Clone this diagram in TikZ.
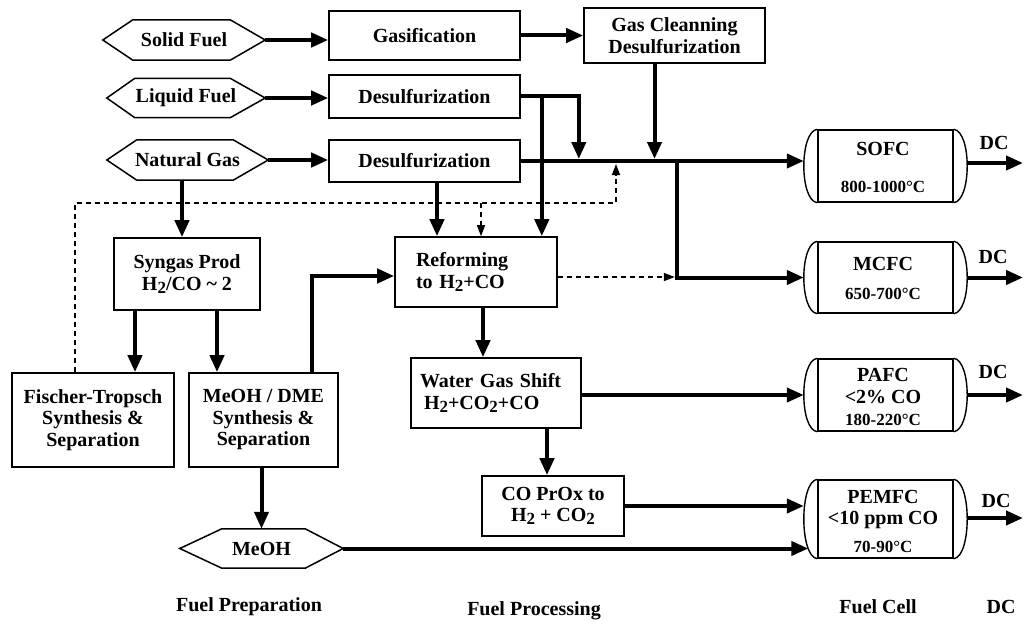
\documentclass[tikz,border=0pt]{standalone}
\usepackage{fontspec}
\setmainfont{Liberation Serif}
\usetikzlibrary{arrows.meta,calc}
\newcommand\hsub[1]{\raisebox{-0.35ex}{\fontsize{17}{17}\selectfont #1}}
\newcommand\hexdraw[3]{%
  \draw[line width=1.5pt] (#1.west) -- ($(#1.north west)+(#2,0)$) -- ($(#1.north east)+(-#3,0)$) -- (#1.east) -- ($(#1.south east)+(-#3,0)$) -- ($(#1.south west)+(#2,0)$) -- cycle;}
\newcommand\fcdraw[1]{%
  \draw[line width=1.4pt] (#1.north west) .. controls ($(#1.north west)+(-18,2)$) and ($(#1.south west)+(-18,-2)$) .. (#1.south west);
  \draw[line width=1.4pt] (#1.north east) .. controls ($(#1.north east)+(18,2)$) and ($(#1.south east)+(18,-2)$) .. (#1.south east);
  \coordinate (#1-in) at ($(#1.west)+(-13.5,0)$);}
\tikzset{
  every node/.style={font=\fontsize{20}{21.5}\selectfont\bfseries},
  box/.style={draw, line width=1.6pt, rectangle, inner sep=0pt, align=center},
  hexnode/.style={inner sep=0pt, minimum height=#1},
  fc/.style={draw, line width=1.4pt, rectangle, inner sep=0pt, minimum width=135pt},
  txt/.style={inner sep=0pt},
  smalltxt/.style={inner sep=0pt, font=\fontsize{17}{18}\selectfont\bfseries},
  flow/.style={line width=4pt, -{Triangle[length=17pt,width=14pt]}},
  plainline/.style={line width=4pt},
  dflow/.style={line width=1.5pt, dash pattern=on 5pt off 4pt, -{Triangle[length=11pt,width=8pt]}},
}
\begin{document}
\begin{tikzpicture}[x=1pt,y=-1pt]
\fill[white] (0,0) rectangle (1024,623);
\useasboundingbox (0,0) rectangle (1024,623);

% hexagon inputs
\node[hexnode=40pt, minimum width=162pt] (solid) at (184,40) {Solid Fuel};
\node[hexnode=39pt, minimum width=158pt] (liquid) at (186,98) {Liquid Fuel};
\node[hexnode=40pt, minimum width=161pt] (natgas) at (187.5,160) {Natural Gas};
\node[hexnode=39pt, minimum width=163pt] (meohhex) at (261.5,548.5) {MeOH};
\hexdraw{solid}{30}{35}
\hexdraw{liquid}{28}{35}
\hexdraw{natgas}{30}{35}
\hexdraw{meohhex}{42}{38}

% boxes
\node[box, minimum width=191pt, minimum height=49pt] (gasif) at (424.5,35.5) {Gasification};
\node[box, minimum width=191pt, minimum height=43pt] (desulf1) at (424.5,96.5) {Desulfurization};
\node[box, minimum width=191pt, minimum height=42pt] (desulf2) at (424.5,161) {Desulfurization};
\node[box, minimum width=181pt, minimum height=55pt] (gasclean) at (674.5,35.5) {Gas Cleanning\\Desulfurization};
\node[box, minimum width=146pt, minimum height=72pt] (syngas) at (187,274) {Syngas Prod\\H\hsub{2}/CO \textasciitilde{} 2};
\node[box, minimum width=162pt, minimum height=94pt] (ft) at (93,420) {Fischer-Tropsch\\Synthesis \&\\Separation};
\node[box, minimum width=149pt, minimum height=94pt] (meohdme) at (263.5,420) {MeOH / DME\\Synthesis \&\\Separation};
\node[box, text width=120pt, inner xsep=21pt, align=left, minimum height=70pt] (reform) at (476,272) {Reforming\\to H\hsub{2}+CO};
\node[box, text width=152pt, inner xsep=9pt, align=left, minimum height=70pt] (wgs) at (496,393) {Water Gas Shift\\\hspace*{4pt}H\hsub{2}+CO\hsub{2}+CO};
\node[box, minimum width=142pt, minimum height=60pt] (prox) at (553,506) {CO PrOx to\\H\hsub{2} + CO\hsub{2}};

% fuel cells
\node[fc, minimum height=72pt] (sofc) at (885.5,166) {};
\node[fc, minimum height=71pt] (mcfc) at (885.5,277.5) {};
\node[fc, minimum height=72pt] (pafc) at (885.5,395) {};
\node[fc, minimum height=78pt] (pemfc) at (885.5,519) {};
\fcdraw{sofc}
\fcdraw{mcfc}
\fcdraw{pafc}
\fcdraw{pemfc}
\node[txt] (sofc1) at (883,149) {SOFC};
\node[smalltxt] (sofc2) at (883,187) {800-1000°C};
\node[txt] (mcfc1) at (883,264) {MCFC};
\node[smalltxt] (mcfc2) at (883,294) {650-700°C};
\node[txt] (pafc1) at (883,375) {PAFC};
\node[txt] (pafc2) at (883,397) {<2\% CO};
\node[smalltxt] (pafc3) at (883,420) {180-220°C};
\node[txt] (pemfc1) at (883,497) {PEMFC};
\node[txt] (pemfc2) at (883,520) {<10 ppm CO};
\node[smalltxt] (pemfc3) at (883,547) {70-90°C};

% DC outputs
\coordinate (right) at (1023,0);
\coordinate (sofc-out) at ($(sofc.east)+(13.5,-3)$);
\coordinate (mcfc-out) at ($(mcfc.east)+(13.5,0)$);
\coordinate (pafc-out) at ($(pafc.east)+(13.5,0)$);
\coordinate (pemfc-out) at ($(pemfc.east)+(13.5,-1)$);
\draw[flow] (sofc-out) -- (sofc-out -| right);
\draw[flow] (mcfc-out) -- (mcfc-out -| right);
\draw[flow] (pafc-out) -- (pafc-out -| right);
\draw[flow] (pemfc-out) -- (pemfc-out -| right);
\node[txt] (dc1) at (994,143) {DC};
\node[txt] (dc2) at (993,257) {DC};
\node[txt] (dc3) at (993,372) {DC};
\node[txt] (dc4) at (996,501) {DC};

% bottom labels
\node[txt] (lprep) at (249,607) {Fuel Preparation};
\node[txt] (lproc) at (534,611) {Fuel Processing};
\node[txt] (lcell) at (878,607) {Fuel Cell};
\node[txt] (ldc) at (1001,607) {DC};

% input arrows
\draw[flow] (solid.east) -- (solid.east -| gasif.west);
\draw[flow] (gasif.east) -- (gasif.east -| gasclean.west);
\draw[flow] (liquid.east) -- (liquid.east -| desulf1.west);
\draw[flow] (natgas.east) -- (natgas.east -| desulf2.west);

% main bus
\draw[flow] (desulf2.east) -- (desulf2.east -| sofc-in);
\coordinate (bt) at ($(desulf2.east)+(0,-2)$);
\coordinate (j0) at ($(desulf1.east)+(58,0)$);
\draw[flow] (desulf1.east) -- (j0) -- (j0 |- bt);
\coordinate (j1) at ($(desulf1.east)+(21,0)$);
\draw[flow] (j1) -- (j1 |- reform.north);
\coordinate (jg) at ($(gasclean.south)+(-20,0)$);
\draw[flow] (jg) -- (jg |- bt);
\coordinate (j2) at ($(desulf2.east)+(156,0)$);
\draw[flow] (j2) |- (mcfc-in);
\coordinate (j3) at ($(desulf2.south)+(12.5,0)$);
\draw[flow] (j3) -- (j3 |- reform.north);

% dashed recycle
\coordinate (dl) at ($(ft.north)+(-18,0)$);
\coordinate (dy) at (0,203);
\coordinate (dend) at (616,164);
\draw[dflow] (dl) |- (dy -| dend) -- (dend);
\coordinate (j4) at ($(reform.north)+(5,0)$);
\draw[dflow] (j4 |- dy) -- (j4);
\coordinate (rout) at ($(reform.east)+(0,5)$);
\draw[dflow] (rout) -- ($(rout -| j2)+(-2,0)$);

% fuel preparation
\coordinate (j5) at ($(natgas.south)+(-5.5,0)$);
\draw[flow] (j5) -- (j5 |- syngas.north);
\coordinate (j6) at ($(syngas.south)+(-52,0)$);
\draw[flow] (j6) -- (j6 |- ft.north);
\coordinate (j7) at ($(syngas.south)+(30,0)$);
\draw[flow] (j7) -- (j7 |- meohdme.north);
\coordinate (j8) at ($(meohdme.north)+(48.5,0)$);
\coordinate (rin) at ($(reform.west)+(0,4)$);
\draw[flow] (j8) |- (rin);
\draw[flow] (meohhex.north |- meohdme.south) -- (meohhex.north);
\coordinate (pemlow) at ($(pemfc.south west)+(-9,-10)$);
\draw[flow] (meohhex.east) -- (meohhex.east -| pemlow);

% fuel processing
\coordinate (j9) at ($(reform.south)+(7,0)$);
\draw[flow] (j9) -- (j9 |- wgs.north);
\draw[flow] (pafc-in -| wgs.east) -- (pafc-in);
\coordinate (j10) at ($(prox.north)+(-6,0)$);
\draw[flow] (j10 |- wgs.south) -- (j10);
\draw[flow] (prox.east) -- (prox.east -| pemfc-in);
\end{tikzpicture}
\end{document}
